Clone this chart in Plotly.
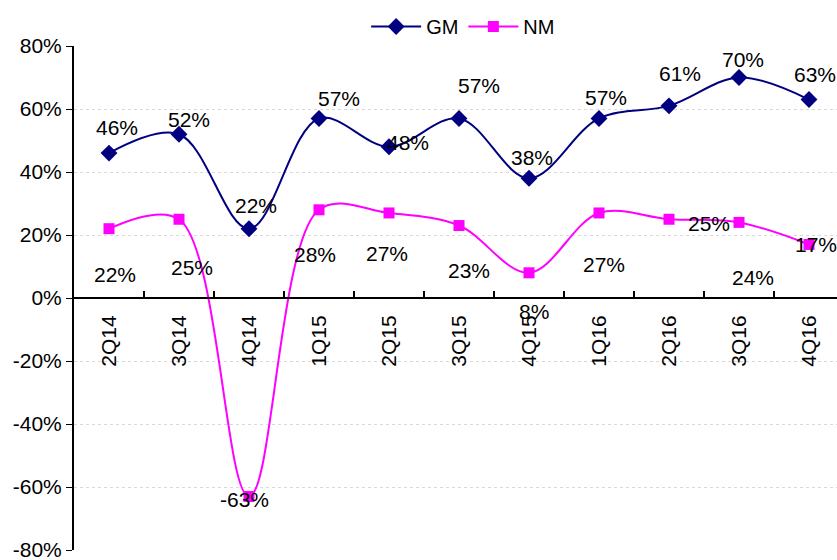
import plotly.graph_objects as go

categories = ["2Q14", "3Q14", "4Q14", "1Q15", "2Q15", "3Q15", "4Q15", "1Q16", "2Q16", "3Q16", "4Q16"]
gm_values = [46, 52, 22, 57, 48, 57, 38, 57, 61, 70, 63]
nm_values = [22, 25, -63, 28, 27, 23, 8, 27, 25, 24, 17]
y_ticks = [-80, -60, -40, -20, 0, 20, 40, 60, 80]

# label offsets (pixels) – style only
gm_label_shift = [(8, 26), (10, 15), (7, 23), (20, 20), (19, 4), (20, 33), (3, 21), (7, 21), (11, 32), (4, 18), (6, 25)]
nm_label_shift = [(6, -46), (13, -48), (-5, -3), (-4, -45), (-2, -41), (10, -45), (5, -39), (5, -52), (40, -4), (14, -55), (7, 0)]

FONT = "Liberation Sans, Arial, sans-serif"
FS = 21
GM_COLOR = "#000080"
NM_COLOR = "#FF00FF"

fig = go.Figure()
fig.add_trace(go.Scatter(
    x=categories, y=gm_values, name="GM", mode="lines+markers",
    line=dict(color=GM_COLOR, width=2, shape="spline", smoothing=1.0),
    marker=dict(symbol="diamond", size=13, color=GM_COLOR),
))
fig.add_trace(go.Scatter(
    x=categories, y=nm_values, name="NM", mode="lines+markers",
    line=dict(color=NM_COLOR, width=2, shape="spline", smoothing=1.0),
    marker=dict(symbol="square", size=11, color=NM_COLOR),
))

annotations = []
for c, v, (dx, dy) in zip(categories, gm_values, gm_label_shift):
    annotations.append(dict(x=c, y=v, text=f"{v}%", showarrow=False, xshift=dx, yshift=dy,
                            font=dict(family=FONT, size=FS, color="black")))
for c, v, (dx, dy) in zip(categories, nm_values, nm_label_shift):
    annotations.append(dict(x=c, y=v, text=f"{v}%", showarrow=False, xshift=dx, yshift=dy,
                            font=dict(family=FONT, size=FS, color="black")))

fig.update_layout(
    width=837, height=560,
    margin=dict(l=74, r=0, t=46, b=10),
    paper_bgcolor="white", plot_bgcolor="white",
    font=dict(family=FONT, size=FS, color="black"),
    showlegend=True,
    legend=dict(orientation="h", x=0.51, xanchor="center", y=1.0, yanchor="bottom",
                font=dict(family=FONT, size=FS - 1), bgcolor="rgba(0,0,0,0)", itemwidth=50),
    annotations=annotations,
)
fig.update_xaxes(
    type="category", range=[-0.5, 10.4], tickangle=-90,
    anchor="free", position=0.5,
    showline=True, linecolor="black", linewidth=2,
    ticks="inside", ticklen=6, tickcolor="black", tickwidth=1.5,
    tickson="boundaries", showgrid=False, zeroline=False,
    ticklabelstandoff=8,
    tickfont=dict(family=FONT, size=FS, color="black"),
)
fig.update_yaxes(
    range=[-80, 80], tickvals=y_ticks, ticktext=[f"{t}%" for t in y_ticks],
    showline=True, linecolor="black", linewidth=2,
    ticks="outside", ticklen=6, tickcolor="black",
    showgrid=True, gridcolor="#d9d9d9", gridwidth=1, griddash="dot",
    zeroline=False, ticklabeloverflow="allow",
    tickfont=dict(family=FONT, size=FS, color="black"),
)

fig.write_html("out.html")
